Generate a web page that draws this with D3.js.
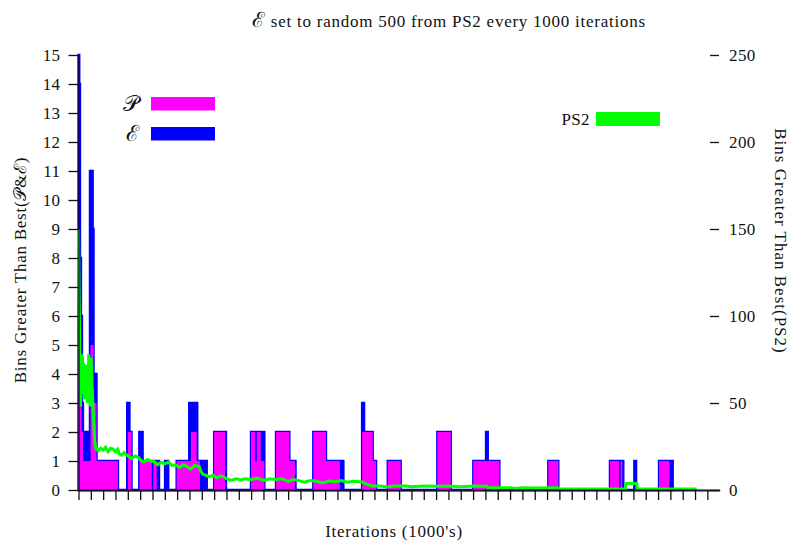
<!DOCTYPE html>
<html>
<head>
<meta charset="utf-8">
<script src="https://cdn.jsdelivr.net/npm/d3@7"></script>
<style>
  html, body { margin: 0; padding: 0; background: #fff; }
  svg { display: block; }
  text { font-family: "Liberation Serif", "DejaVu Serif", serif; fill: #111; }
</style>
</head>
<body>
<svg id="chart" width="790" height="542"></svg>
<script>
// Elite set size (bins greater than best), step changes: iteration (1000's) -> bins
const eIter = [0, 0.06, 0.12, 0.2, 0.28, 0.36, 0.93, 1.15, 1.22, 1.46, 3.2, 3.95, 4.13, 4.3,
  4.93, 5.2, 6.53, 7.02, 7.28, 7.96, 8.98, 9.63, 10.4, 11.0, 11.96, 13.99, 15.07, 16.02, 17.1,
  17.6, 19.04, 20.07, 21.48, 23.0, 23.16, 23.86, 24.13, 25.08, 26.13, 29.1, 30.19, 32.02, 33.05,
  33.19, 34.13, 38.1, 38.91, 43.1, 44.18, 45.08, 45.22, 47.08, 48.19];
const eBins = [15, 14, 8, 6, 3, 2, 11, 9, 4, 1, 0, 3, 2, 0,
  2, 1, 0, 1, 0, 1, 3, 1, 0, 2, 0, 2, 0, 2, 1,
  0, 2, 1, 0, 3, 2, 1, 0, 1, 0, 2, 0, 1, 2,
  1, 0, 1, 0, 1, 0, 1, 0, 1, 0];

// Population (bins greater than best), step changes
const pIter = [0, 0.12, 0.25, 0.36, 0.98, 1.22, 1.46, 3.2, 4.0, 4.3, 4.95, 5.94, 6.07, 6.34,
  7.96, 9.12, 9.58, 9.85, 11.0, 11.88, 13.99, 14.33, 14.46, 14.78, 15.07, 16.02, 17.1, 17.55,
  19.04, 20.07, 21.2, 23.0, 23.86, 24.13, 25.08, 26.13, 29.1, 30.19, 32.02, 34.13, 38.1, 38.91,
  43.1, 43.84, 43.97, 44.1, 47.08, 47.92];
const pBins = [5, 3, 2, 1, 5, 3, 1, 0, 2, 0, 1, 0, 1, 0,
  1, 2, 1, 0, 2, 0, 2, 1, 2, 1, 0, 2, 1, 0,
  2, 1, 0, 2, 1, 0, 1, 0, 2, 0, 1, 0, 1, 0,
  1, 0, 1, 0, 1, 0];

// PS2 (bins greater than best), sampled trace
const psIter = [0, 0.02, 0.05, 0.08, 0.11, 0.14, 0.17, 0.2, 0.23, 0.26, 0.29, 0.32, 0.35, 0.38,
  0.41, 0.44, 0.47, 0.5, 0.53, 0.56, 0.6, 0.63, 0.66, 0.7, 0.73, 0.76, 0.8, 0.83, 0.86, 0.9,
  0.93, 0.96, 1.0, 1.03, 1.06, 1.1, 1.13, 1.16, 1.2, 1.24, 1.28, 1.32, 1.36, 1.4,
  1.6, 1.8, 2.0, 2.2, 2.4, 2.6, 2.8, 3.0, 3.18, 3.3, 3.5, 3.7, 3.9, 4.05, 4.3, 4.6, 4.9,
  5.0, 5.3, 5.6, 5.9, 6.1, 6.4, 6.7, 7.0, 7.3, 7.6, 7.85, 8.2, 8.5, 8.8, 9.1, 9.4, 9.8,
  9.9, 10.1, 10.3, 10.6, 10.9, 11.2, 11.5, 11.8, 12.0, 12.4, 12.8, 13.2, 13.5, 14, 14.5, 15,
  15.5, 16, 16.5, 17, 17.4, 17.8, 18.3, 18.8, 19.3, 19.8, 20.3, 20.8, 21.3, 21.8, 22.3, 22.8,
  23.07, 23.3, 23.6, 23.8, 24.5, 25, 25.5, 26.5, 27, 28, 29, 30, 31, 32, 33.13,
  33.2, 35, 35.5, 36, 37, 38.89, 38.95, 42, 44.35, 44.4, 45.27, 45.3, 50.14];
const psBins = [150, 132, 110, 95, 75, 60, 48, 70, 78, 62, 55, 77, 68, 58,
  73, 64, 52, 70, 60, 67, 56, 72, 62, 58, 50, 63, 66, 78, 68, 55,
  60, 48, 62, 76, 65, 52, 58, 50, 44, 38, 32, 28, 26, 24,
  22.5, 24, 23, 24.5, 22, 24, 23.5, 22, 23.5, 21, 20, 21.5, 20, 19.5, 18, 19.5, 18.5,
  17.5, 16, 17.5, 16.5, 16.5, 14.5, 16, 15, 16, 14, 14.5, 13, 14.5, 13.5, 12, 14, 13.5,
  11, 9, 8.5, 7.5, 8.5, 7, 8, 7.5, 6.5, 5.5, 6.5, 5.8, 6.5, 6, 6.8, 5.5,
  6.5, 6, 6.5, 5, 6, 5.5, 4.5, 5.5, 5, 4, 5.2, 4.8, 5.5, 4.5, 5, 4.8,
  4.5, 3.5, 2.8, 2.3, 2.3, 1.8, 2.3, 2.3, 1.9, 2.3, 2.2, 2.3, 1.8, 2.3, 2.2,
  1.3, 1.3, 0.9, 1.3, 1.2, 1.3, 0.6, 0.6, 0.6, 3.8, 3.8, 0.6, 0.6];

const xTicks = d3.range(0, 52);
const leftTicks = d3.range(0, 16);
const rightTicks = [0, 50, 100, 150, 200, 250];

const svg = d3.select("#chart");

const x = d3.scaleLinear().domain([0, 52]).range([78.5, 719.7]);
const yL = d3.scaleLinear().domain([0, 15]).range([490, 55]);
const yR = d3.scaleLinear().domain([0, 250]).range([490, 55]);

const eData = eIter.map((u, i) => ({u, v: eBins[i]}));
const pData = pIter.map((u, i) => ({u, v: pBins[i]}));
const psData = psIter.map((u, i) => ({u, v: psBins[i]}));

const stepArea = d3.area()
  .x(d => x(d.u)).y0(yL(0)).y1(d => yL(d.v))
  .curve(d3.curveStepAfter);

// elite set drawn first, with an outline that frames the population fill
svg.append("path").datum(eData)
  .attr("d", stepArea)
  .attr("fill", "#0000ff")
  .attr("stroke", "#0000ff")
  .attr("stroke-width", 2.4)
  .attr("stroke-linejoin", "miter");

svg.append("path").datum(pData)
  .attr("d", stepArea)
  .attr("fill", "#ff00ff");

// PS2 trace on the right-hand scale
svg.append("path").datum(psData)
  .attr("d", d3.line().x(d => x(d.u)).y(d => yR(d.v)))
  .attr("fill", "none")
  .attr("stroke", "#00ff00")
  .attr("stroke-width", 3);

// axes
const axisStyle = g => {
  g.selectAll("path, line").attr("stroke", "#111").attr("stroke-width", 1.3);
  g.selectAll("text").attr("font-family", "Liberation Serif, serif").attr("font-size", 17)
    .attr("letter-spacing", 0.4).attr("fill", "#111");
};

svg.append("g").attr("transform", `translate(0,${yL(0)})`)
  .call(d3.axisBottom(x).tickValues(xTicks).tickSize(10).tickSizeOuter(0).tickFormat(""))
  .call(axisStyle)
  .call(g => g.select(".domain").attr("stroke", "#150f3a").attr("stroke-width", 2));

svg.append("g").attr("transform", `translate(${x(0)},0)`)
  .call(d3.axisLeft(yL).tickValues(leftTicks).tickSize(10).tickSizeOuter(0).tickPadding(8).tickFormat(d3.format("d")))
  .call(axisStyle);

svg.append("g").attr("transform", "translate(710,0)")
  .call(d3.axisRight(yR).tickValues(rightTicks).tickSize(9).tickPadding(10).tickFormat(d3.format("d")))
  .call(axisStyle)
  .call(g => g.select(".domain").remove());

const labelFont = {size: 17, spacing: 0.75};

// title
const title = svg.append("text").attr("x", 449).attr("y", 27).attr("text-anchor", "middle")
  .attr("font-size", labelFont.size).attr("letter-spacing", labelFont.spacing);
title.append("tspan").attr("font-family", "DejaVu Serif").attr("font-size", 21).text("ℰ");
title.append("tspan").text(" set to random 500 from PS2 every 1000 iterations");

// axis titles
svg.append("text").attr("x", 394).attr("y", 537).attr("text-anchor", "middle")
  .attr("font-size", labelFont.size).attr("letter-spacing", labelFont.spacing).text("Iterations (1000's)");

const yl = svg.append("text").attr("transform", "translate(26,270) rotate(-90)")
  .attr("text-anchor", "middle").attr("font-size", labelFont.size).attr("letter-spacing", labelFont.spacing);
yl.append("tspan").text("Bins Greater Than Best(");
yl.append("tspan").attr("font-family", "DejaVu Serif").text("𝒫");
yl.append("tspan").text("&");
yl.append("tspan").attr("font-family", "DejaVu Serif").text("ℰ");
yl.append("tspan").text(")");

svg.append("text").attr("transform", "translate(775,241) rotate(90)")
  .attr("text-anchor", "middle").attr("font-size", labelFont.size).attr("letter-spacing", 1.0)
  .text("Bins Greater Than Best(PS2)");

// legends
const legend = [
  {label: "𝒫", color: "#ff00ff", y: 97},
  {label: "ℰ", color: "#0000ff", y: 127}
];
legend.forEach(d => {
  svg.append("rect").attr("x", 151).attr("y", d.y).attr("width", 64).attr("height", 13.5).attr("fill", d.color);
  svg.append("text").attr("x", 139).attr("y", d.y + 14).attr("text-anchor", "end")
    .attr("font-family", "DejaVu Serif").attr("font-size", 22).text(d.label);
});
svg.append("rect").attr("x", 596).attr("y", 112).attr("width", 64).attr("height", 14).attr("fill", "#00ff00");
svg.append("text").attr("x", 590).attr("y", 125).attr("text-anchor", "end").attr("font-size", 17)
  .attr("letter-spacing", 0.4).text("PS2");
</script>
</body>
</html>
